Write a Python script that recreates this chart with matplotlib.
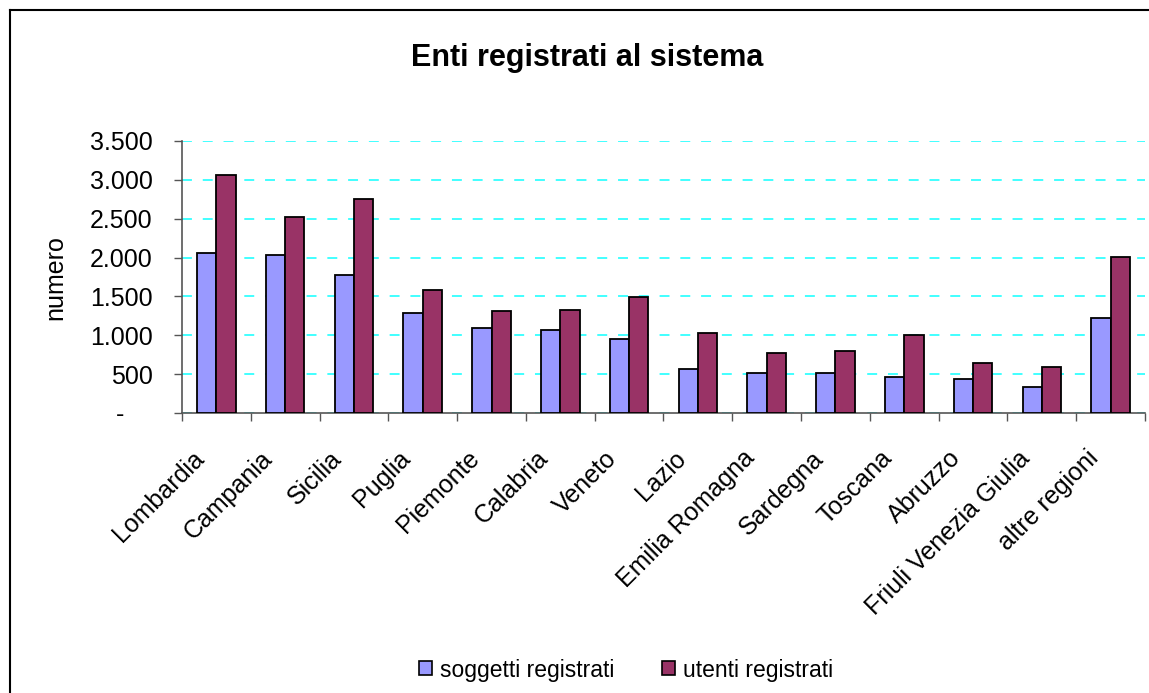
import matplotlib
matplotlib.use("Agg")
import matplotlib.pyplot as plt
from matplotlib.patches import Patch
from matplotlib.lines import Line2D
from matplotlib.ticker import FuncFormatter, FixedLocator
from matplotlib.transforms import ScaledTranslation
import numpy as np

plt.rcParams['font.family'] = ['Liberation Sans', 'DejaVu Sans']

categories = ["Lombardia", "Campania", "Sicilia", "Puglia", "Piemonte", "Calabria",
              "Veneto", "Lazio", "Emilia Romagna", "Sardegna", "Toscana", "Abruzzo",
              "Friuli Venezia Giulia", "altre regioni"]
soggetti = [2053, 2031, 1773, 1284, 1099, 1073, 949, 562, 510, 510, 459, 433, 330, 1228]
utenti = [3062, 2521, 2753, 1589, 1309, 1331, 1490, 1026, 768, 794, 1000, 639, 588, 2005]
series_names = ["soggetti registrati", "utenti registrati"]
colors = ["#9999FF", "#993366"]

W, H = 1149, 693
fig = plt.figure(figsize=(W/100, H/100), dpi=100)
ax = fig.add_axes([182/W, 1-413/H, (1145-182)/W, (413-141)/H])

x = np.arange(len(categories))
bw = 0.28
ax.bar(x - bw/2, soggetti, bw, color=colors[0], edgecolor="black", linewidth=1.3, zorder=3)
ax.bar(x + bw/2, utenti, bw, color=colors[1], edgecolor="black", linewidth=1.3, zorder=3)

ax.set_xlim(-0.5, len(categories) - 0.5)
ax.set_ylim(0, 3500)
ax.set_yticks(np.arange(0, 3501, 500))
def fmt(v, pos):
    if v == 0:
        return "-    "
    return f"{int(v):,}".replace(",", ".")
ax.yaxis.set_major_formatter(FuncFormatter(fmt))
ax.yaxis.grid(True, color="#33FFFF", linestyle=(0, (5.5, 6)), linewidth=1.3, zorder=0)
ax.set_axisbelow(True)

ax.set_xticks(x)
ax.set_xticklabels(categories, rotation=45, ha="right", va="center",
                   rotation_mode="anchor", fontsize=18)
ax.tick_params(axis="x", length=0, pad=30)
shift = ScaledTranslation(-16/100, 0, fig.dpi_scale_trans)
for lab in ax.get_xticklabels():
    lab.set_transform(lab.get_transform() + shift)
ax.xaxis.set_minor_locator(FixedLocator(np.arange(-0.5, len(categories), 1.0)))
ax.tick_params(axis="x", which="minor", length=6, color="#555555", width=1.0)
ax.tick_params(axis="y", labelsize=18, length=6, color="#555555", width=1.0, pad=15)

for s in ["top", "right"]:
    ax.spines[s].set_visible(False)
ax.spines["left"].set_color("#555555")
ax.spines["bottom"].set_color("#555555")
ax.spines["left"].set_linewidth(1.2)
ax.spines["bottom"].set_linewidth(1.2)

fig.text(55/W, 1-278/H, "numero", rotation=90, ha="center", va="center", fontsize=18)
fig.text(587/W, 1-58/H, "Enti registrati al sistema", ha="center", va="center",
         fontsize=22, fontweight="bold")

handles = [Patch(facecolor=c, edgecolor="black", linewidth=1.2) for c in colors]
fig.legend(handles, series_names, loc="center", bbox_to_anchor=(626/W, 1-670/H),
           ncol=2, frameon=False, fontsize=16.5, handlelength=0.55, handleheight=0.55,
           handletextpad=0.35, columnspacing=2.1, borderpad=0.1)

fig.add_artist(Line2D([10/W, 10/W], [0, 1-10/H], transform=fig.transFigure,
                      color="black", linewidth=1.5))
fig.add_artist(Line2D([10/W, 1], [1-10/H, 1-10/H], transform=fig.transFigure,
                      color="black", linewidth=1.5))

fig.savefig("out.png", dpi=100)
